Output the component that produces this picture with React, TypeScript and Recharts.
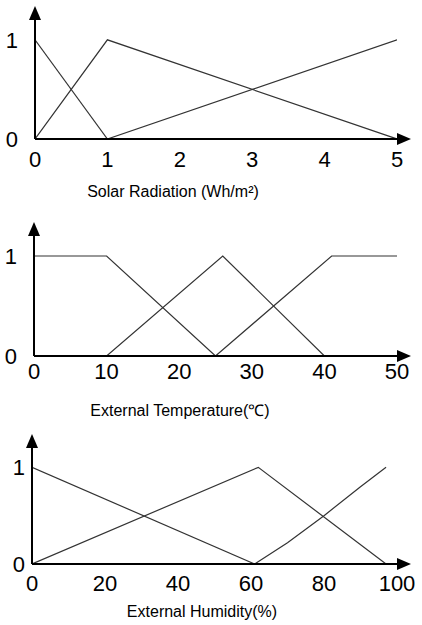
import { LineChart, Line, XAxis, YAxis, Customized } from 'recharts';

type Pt = [number, number];

// solar radiation (Wh/m²)
const solarTicks = [0, 1, 2, 3, 4, 5];
const solarLow: Pt[] = [[0, 1], [1, 0]];
const solarMid: Pt[] = [[0, 0], [1, 1], [5, 0]];
const solarHigh: Pt[] = [[1, 0], [5, 1]];

// external temperature (℃)
const tempTicks = [0, 10, 20, 30, 40, 50];
const tempCold: Pt[] = [[0, 1], [10, 1], [25, 0]];
const tempMild: Pt[] = [[10, 0], [26, 1], [40, 0]];
const tempHot: Pt[] = [[25, 0], [41, 1], [50, 1]];

// external humidity (%)
const humTicks = [0, 20, 40, 60, 80, 100];
const humDry: Pt[] = [[0, 1], [61, 0]];
const humNormal: Pt[] = [[0, 0], [62, 1], [97, 0]];
const humWet: Pt[] = [[61, 0], [70, 0.22], [80, 0.5], [90, 0.8], [97, 1]];

const yTicks = [0, 1];

const FONT = '"Liberation Sans", Arial, sans-serif';

const toPts = (arr: Pt[]) => arr.map(([x, y]) => ({ x, y }));

function ArrowDefs({ id }: { id: string }) {
  return (
    <defs>
      <marker id={id} markerUnits="userSpaceOnUse" markerWidth={14} markerHeight={12}
        refX={0} refY={6} orient="auto-start-reverse">
        <path d="M0,0 L14,6 L0,12 Z" fill="#000" />
      </marker>
    </defs>
  );
}

interface ChartProps {
  id: string;
  top: number;
  height: number;
  plotTop: number;
  axisLeft: number;
  xMax: number;
  ticks: number[];
  series: Pt[][];
  xAxisHeight: number;
  xTickMargin: number;
  yTickMargin: number;
  title: string;
  titleX: number;
  titleY: number;
}

function MembershipChart(p: ChartProps) {
  return (
    <div style={{ position: 'absolute', left: 0, top: p.top, width: 422, height: p.height }}>
      <LineChart width={422} height={p.height} margin={{ top: p.plotTop, right: 422 - 397, left: 0, bottom: 0 }}>
        <Customized component={<ArrowDefs id={p.id} />} />
        <XAxis type="number" dataKey="x" domain={[0, p.xMax]} ticks={p.ticks} allowDataOverflow
          height={p.xAxisHeight} tickLine={false} tickSize={0} tickMargin={p.xTickMargin}
          axisLine={{ stroke: '#000', strokeWidth: 2, markerEnd: `url(#${p.id})` } as any}
          tick={{ fill: '#000', fontSize: 22, fontFamily: FONT }} />
        <YAxis type="number" domain={[0, 1.2]} ticks={yTicks} allowDataOverflow width={p.axisLeft}
          tickLine={false} tickSize={0} tickMargin={p.yTickMargin}
          axisLine={{ stroke: '#000', strokeWidth: 2, markerStart: `url(#${p.id})` } as any}
          tick={{ fill: '#000', fontSize: 22, fontFamily: FONT }} />
        {p.series.map((s, i) => (
          <Line key={i} data={toPts(s)} dataKey="y" type="linear" dot={false}
            stroke="#333" strokeWidth={1.2} isAnimationActive={false} />
        ))}
      </LineChart>
      <div style={{
        position: 'absolute', left: p.titleX, top: p.titleY, transform: 'translate(-50%, -50%)',
        whiteSpace: 'nowrap', fontFamily: FONT, fontSize: 16, color: '#000',
      }}>{p.title}</div>
    </div>
  );
}

export default function App() {
  return (
    <div style={{ position: 'absolute', left: 0, top: 0, width: 422, height: 625, background: '#fff' }}>
      <MembershipChart id="arrSolar" top={0} height={210} plotTop={20} axisLeft={35} xMax={5}
        ticks={solarTicks} series={[solarLow, solarMid, solarHigh]} xAxisHeight={71}
        xTickMargin={12} yTickMargin={17} title="Solar Radiation (Wh/m²)" titleX={173} titleY={192} />
      <MembershipChart id="arrTemp" top={210} height={210} plotTop={26} axisLeft={34} xMax={50}
        ticks={tempTicks} series={[tempCold, tempMild, tempHot]} xAxisHeight={64}
        xTickMargin={7} yTickMargin={17} title="External Temperature(℃)" titleX={180} titleY={200} />
      <MembershipChart id="arrHum" top={420} height={205} plotTop={28} axisLeft={32} xMax={100}
        ticks={humTicks} series={[humDry, humNormal, humWet]} xAxisHeight={61}
        xTickMargin={11} yTickMargin={7} title="External Humidity(%)" titleX={202} titleY={192} />
    </div>
  );
}
